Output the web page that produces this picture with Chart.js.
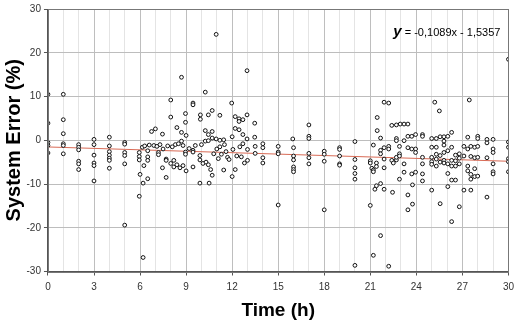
<!DOCTYPE html>
<html>
<head>
<meta charset="utf-8">
<script src="https://cdn.jsdelivr.net/npm/chart.js@4/dist/chart.umd.min.js"></script>
<style>
html, body { margin: 0; padding: 0; background: #fff; }
</style>
</head>
<body>
<canvas id="graph" width="520" height="320"></canvas>
<script>
// readings [time (h), system error (%)]
var earlyPoints = [
    [0,10.5],[0,3.9],[0,-0.5],[0,-1.2],[0,-2.9],
    [1,10.5],[1,4.7],[1,1.5],[1,-0.8],[1,-1.2],[1,-3.1],
    [2,-1],[2,-1.6],[2,-2.2],[2,-4.8],[2,-5.4],[2,-6.7],
    [3,0.2],[3,-1],[3,-3.4],[3,-5.2],[3,-5.8],[3,-9.3],
    [4,0.7],[4,-1.3],[4,-2.6],[4,-3.4],[4,-4.1],[4,-4.6],[4,-6.4],
    [5,-0.5],[5,-0.9],[5,-2.8],[5,-3.5],[5,-5.4],[5,-19.4]
];
var midPoints = [
    [5.95,-2.8],[5.95,-3.7],[5.95,-4.5],[6.0,-7.8],[5.95,-12.8],[6.2,-9.8],[6.2,-26.8],[6.15,-1.6],[6.25,-5.8],
    [6.5,-2.4],[6.5,-3.8],[6.5,-4.6],[6.5,-8.8],[6.3,-1.3],[6.75,2.0],[7.0,2.6],[6.6,-1.1],[6.9,-1.2],[7.1,-1.4],
    [7.2,-2.8],[7.2,-3.3],[7.3,-1.0],[7.46,1.4],[7.46,-6.3],[7.5,-2.0],[7.7,-4.3],[7.7,-4.6],[7.7,-8.5],[7.8,-1.3],
    [8.0,9.2],[8.0,5.3],[8.0,-5.3],[8.1,-1.5],[8.2,-4.6],[8.2,-6.1],[8.3,-1.0],[8.4,2.9],[8.4,-5.6],[8.5,-0.8],
    [8.6,-6.3],[8.7,1.8],[8.7,-0.2],[8.7,14.4],[8.8,-5.8],[8.8,-1.2],[8.96,6.1],[8.96,4.1],[9.0,1.1],[8.96,-2.7],
    [8.96,-3.2],[9.0,-7.0],[9.2,-1.9],[9.45,8.5],[9.45,8.1],[9.45,-2.3],[9.45,-2.7],[9.45,-6.1],[9.6,-1.2],
    [9.93,5.8],[9.93,4.8],[9.9,-3.5],[9.9,-4.5],[9.9,-9.8],[10.0,-1.0],[10.1,-5.3],[10.25,11.0],[10.25,2.2],
    [10.25,-0.2],[10.3,-5.0],[10.45,5.8],[10.45,1.3],[10.45,-0.1],[10.45,-5.6],[10.5,-9.8],[10.6,-6.7],[10.7,6.8],
    [10.7,2.0],[10.7,0.5],[10.7,-8.0],[10.8,-3.1],[10.96,24.2],[10.96,0.3],[11.0,-2.0],[11.1,-4.2],[11.2,5.7],
    [11.2,0.0],[11.2,-1.5],[11.3,-3.2],[11.45,0.1],[11.45,-6.8],[11.5,-1.0],[11.6,-2.6],[11.7,-3.9],[11.8,-4.4],
    [11.97,8.5],[12.0,0.8],[12.0,-8.3],[12.05,-2.1],[12.2,5.4],[12.2,2.7],[12.2,-6.7],[12.3,-3.6],[12.45,4.9],
    [12.45,4.3],[12.45,2.4],[12.5,-1.5],[12.6,-3.8],[12.7,4.7],[12.7,1.3],[12.7,-0.8],[12.8,-5.2],[12.97,15.9],
    [12.97,5.8],[12.97,0.3],[13.0,-2.1],[13.0,-4.6],[13.47,3.9],[13.47,0.7],[13.5,-1.4],[13.5,-3.0],
    [14,-0.8],[14,-1.7],[14,-4.0],[14,-5.2],
    [15,-1.4],[15,-2.7],[15,-3.1],[15,-14.8],
    [15.95,0.3],[16,-1.7],[16,-3.6],[16,-4.5],[16,-6.1],[16,-6.7],[16,-7.2],
    [17,3.5],[17,0.9],[17,0.4],[17,-3.0],[17,-4.0],[17,-5.4],
    [18,-2.5],[18,-3.2],[18,-4.8],[18,-15.9],
    [19,-1.7],[19,-2.1],[19,-3.6],[19,-5.4],[19,-5.7],
    [20,-0.3],[20,-4.4],[20,-6.3],[20,-7.6],[20,-8.9],[20,-28.6]
];
var latePoints = [
    [21.0,-4.7],[21.0,-5.2],[21.0,-14.9],[21.1,-6.4],[21.2,-6.8],[21.2,-1.1],[21.2,-26.3],[21.2,-7.2],[21.3,-11.2],
    [21.4,-10.4],[21.4,-5.2],[21.4,-6.0],[21.45,5.2],[21.45,2.2],[21.67,0.5],[21.67,-9.9],[21.67,-2.3],[21.67,-3.1],
    [21.67,-21.8],[21.9,8.7],[21.9,-1.7],[21.9,-4.3],[21.9,-6.3],[21.9,-11.2],[22.2,8.5],[22.2,-1.4],[22.2,-2.0],
    [22.2,-28.8],[22.4,3.4],[22.4,-4.6],[22.45,-11.9],[22.5,-5.2],[22.7,0.4],[22.7,-0.1],[22.7,-4.5],[22.7,-3.9],
    [22.7,3.5],[22.9,-1.4],[22.9,-3.1],[22.9,-3.6],[22.9,-8.9],[22.95,3.7],[23.2,-0.1],[23.2,-5.4],[23.2,-7.3],
    [23.2,3.7],[23.45,0.9],[23.45,-1.7],[23.45,-12.5],[23.45,-15.9],[23.45,3.7],[23.7,0.9],[23.7,-2.0],[23.7,-7.7],
    [23.75,-10.2],[23.75,-14.6],[23.95,1.3],[23.95,-7.3],[23.95,-2.0],[23.95,-2.8],[24.4,1.3],[24.4,0.9],[24.4,-3.9],
    [24.4,-5.4],[24.4,-7.7],[24.4,-9.3],[25.0,0.4],[25.0,-1.6],[25.0,-3.9],[25.0,-4.9],[25.0,-5.5],[25.0,-11.4],
    [25.2,8.7],[25.3,0.4],[25.3,-1.6],[25.3,-3.2],[25.3,-4.3],[25.3,-5.9],[25.5,6.7],[25.55,0.8],[25.55,-3.5],
    [25.55,-5.0],[25.55,-14.5],[25.8,0.8],[25.8,-0.2],[25.8,-1.1],[25.8,-2.8],[25.8,-4.6],[25.8,-5.2],[26.05,0.9],
    [26.05,-2.4],[26.05,-5.4],[26.05,-7.6],[26.05,-10.6],[26.3,1.8],[26.3,-1.6],[26.3,-4.6],[26.3,-5.9],[26.3,-9.1],
    [26.3,-18.6],[26.55,-3.4],[26.55,-4.7],[26.55,-5.9],[26.55,-9.1],[26.8,-3.1],[26.8,-4.1],[26.8,-5.4],[26.8,-15.2],
    [27.1,-1.4],[27.1,-3.6],[27.1,-11.4],[27.35,0.7],[27.35,-2.0],[27.35,-5.9],[27.35,-7.0],[27.45,9.2],[27.55,-1.4],
    [27.55,-3.7],[27.55,-7.8],[27.55,-8.9],[27.55,-11.4],[27.8,-1.6],[27.8,-4.0],[27.8,-6.5],[27.8,-8.3],[28.0,0.9],
    [28.0,0.4],[28.0,-1.4],[28.0,-3.9],[28.0,-8.2],[28.6,0.2],[28.6,-0.6],[28.6,-4.0],[28.6,-13.0],[29.0,0.2],
    [29.0,-2.0],[29.0,-2.8],[29.0,-5.4],[29.0,-7.2],[29.0,-7.7],[30,18.5],[30,-0.4],[30,-1.6],[30,-4.2],[30,-4.9],[30,-7.2]
];

// linear trend shown on the chart
const slope = -0.1089;
const intercept = -1.5357;
var trendX = [0, 30];
var xTicks = [0, 3, 6, 9, 12, 15, 18, 21, 24, 27, 30];
var yTicks = [-30, -20, -10, 0, 10, 20, 30];

const font = "'Liberation Sans', Arial, sans-serif";

var points = earlyPoints.concat(midPoints, latePoints).map(p => ({x: p[0], y: p[1]}));
var trend = trendX.map(x => ({x: x, y: slope * x + intercept}));

var frame = {
    id: "frame",
    afterDraw(chart) {
        var ctx = chart.ctx, a = chart.chartArea;
        ctx.save();
        ctx.strokeStyle = "#777";
        ctx.lineWidth = 1;
        ctx.strokeRect(Math.round(a.left) + 0.5, Math.round(a.top) + 0.5, Math.round(a.right - a.left), Math.round(a.bottom - a.top));
        // equation label
        var eq = " = -0,1089x - 1,5357";
        ctx.fillStyle = "#000";
        ctx.textBaseline = "alphabetic";
        ctx.font = "11px " + font;
        var w = ctx.measureText(eq).width;
        var xr = a.right - 8;
        ctx.fillText(eq, xr - w, 36);
        ctx.font = "bold italic 15px " + font;
        var wy = ctx.measureText("y").width;
        ctx.fillText("y", xr - w - wy, 36);
        ctx.restore();
    }
};

var graph = new Chart("graph", {
    data: {
        datasets: [{
            type: "line",
            data: trend,
            borderColor: "#d86a55",
            borderWidth: 1,
            pointRadius: 0,
            fill: false,
            order: 1
        }, {
            type: "scatter",
            data: points,
            pointRadius: 1.9,
            pointBorderWidth: 1,
            pointBorderColor: "#111",
            pointBackgroundColor: "#fff",
            order: 0
        }]
    },
    options: {
        responsive: false,
        animation: false,
        layout: {padding: {left: 2, top: 7, right: 6.5, bottom: 0}},
        plugins: {legend: {display: false}, tooltip: {enabled: false}},
        scales: {
            x: {
                type: "linear",
                min: 0,
                max: 30,
                afterBuildTicks: axis => { axis.ticks = Array.from({length: 31}, (_, i) => ({value: i})); },
                ticks: {
                    autoSkip: false,
                    maxRotation: 0,
                    callback: v => xTicks.includes(v) ? v : "",
                    color: "#333",
                    font: {family: font, size: 10},
                    padding: 6
                },
                grid: {
                    color: c => c.tick && c.tick.value % 3 === 0 ? "#bebebe" : "#e4e4e4",
                    tickColor: c => c.tick && c.tick.value % 3 === 0 ? "#555" : "rgba(0,0,0,0)",
                    tickLength: 4
                },
                border: {color: "#555", width: 1},
                title: {display: true, text: "Time (h)", color: "#000", font: {family: font, size: 19, weight: "bold", lineHeight: 1}, padding: {top: 1.5, bottom: 0}}
            },
            y: {
                min: -30,
                max: 30,
                afterBuildTicks: axis => { axis.ticks = yTicks.map(v => ({value: v})); },
                ticks: {
                    color: "#333",
                    font: {family: font, size: 10},
                    padding: 3
                },
                grid: {color: "#bdbdbd", tickColor: "#555", tickLength: 4},
                border: {color: "#555", width: 1},
                title: {display: true, text: "System Error (%)", color: "#000", font: {family: font, size: 20, weight: "bold"}, padding: {top: 0, bottom: -2.5}}
            }
        }
    },
    plugins: [frame]
});
</script>
</body>
</html>
